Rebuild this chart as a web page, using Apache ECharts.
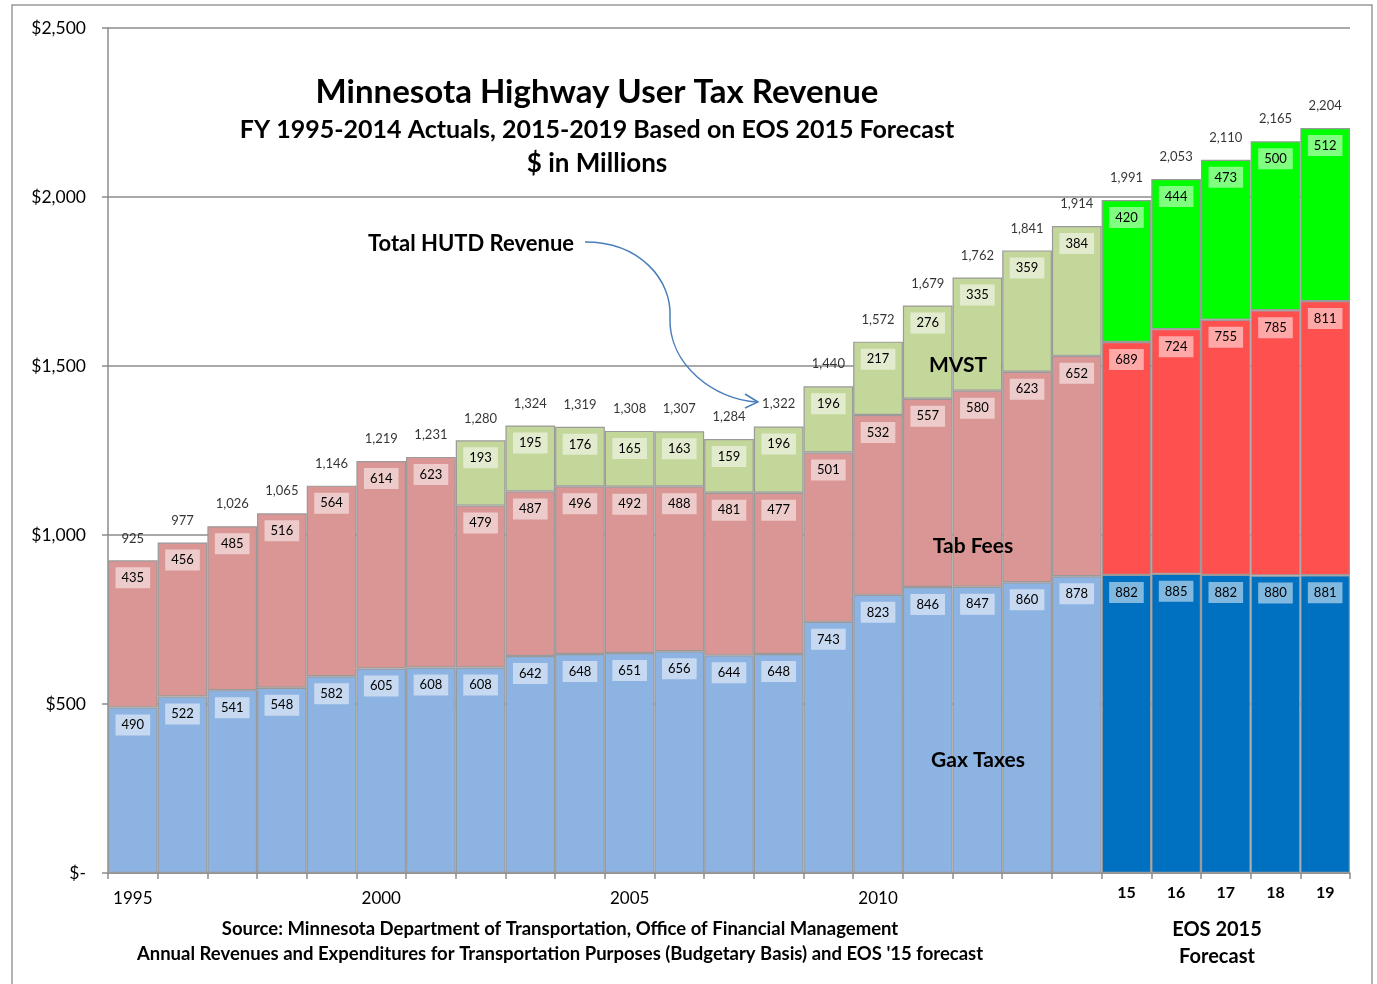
<!DOCTYPE html>
<html>
<head>
<meta charset="utf-8">
<script src="https://cdn.jsdelivr.net/npm/echarts@6/dist/echarts.min.js"></script>
<style>
  html, body { margin: 0; padding: 0; background: #fff; }
  #main { width: 1377px; height: 984px; }
</style>
</head>
<body>
<div id="main"></div>
<script>
// 年份
var years = ['1995','1996','1997','1998','1999','2000','2001','2002','2003','2004','2005','2006',
  '2007','2008','2009','2010','2011','2012','2013','2014','2015','2016','2017','2018','2019']
// Gas taxes
var gasTaxes = [490, 522, 541, 548, 582, 605, 608, 608, 642, 648, 651, 656, 644, 648, 743, 823,
  846, 847, 860, 878, 882, 885, 882, 880, 881]
// Tab fees
var tabFees = [435, 456, 485, 516, 564, 614, 623, 479, 487, 496, 492, 488, 481, 477, 501, 532,
  557, 580, 623, 652, 689, 724, 755, 785, 811]
// MVST (none before 2002)
var mvst = [null, null, null, null, null, null, null, 193, 195, 176, 165, 163, 159, 196, 196, 217,
  276, 335, 359, 384, 420, 444, 473, 500, 512]
// Total HUTD revenue, as printed
var totals = [925, 977, 1026, 1065, 1146, 1219, 1231, 1280, 1324, 1319, 1308, 1307, 1284, 1322, 1440,
  1572, 1679, 1762, 1841, 1914, 1991, 2053, 2110, 2165, 2204]
var yTicks = ['$-', '$500', '$1,000', '$1,500', '$2,000', '$2,500']
var firstForecast = 20

var FONT = 'Lato'
var chart = echarts.init(document.getElementById('main'))

function colored(values, actual, forecast) {
  return values.map(function (v, i) {
    return { value: v, itemStyle: { color: i >= firstForecast ? forecast : actual } }
  })
}

var segLabel = {
  show: true,
  position: 'insideTop',
  distance: 7,
  color: '#000',
  fontFamily: FONT,
  fontSize: 13,
  backgroundColor: 'rgba(255,255,255,0.5)',
  padding: [4, 6, 4, 6]
}
var barBorder = { borderColor: '#9a9a9a', borderWidth: 1.2 }

function txt(x, y, text, font, z) {
  return { type: 'text', x: x, y: y, z: z || 10,
    style: { text: text, font: font, fill: '#000', align: 'center', verticalAlign: 'middle' } }
}

var option = {
  animation: false,
  textStyle: { fontFamily: FONT },
  grid: { left: 108, right: 27, top: 28, bottom: 111 },
  xAxis: {
    type: 'category',
    data: years,
    axisLine: { lineStyle: { color: '#8c8c8c', width: 1.5 } },
    axisTick: { show: true, alignWithLabel: false, interval: 0, length: 6, lineStyle: { color: '#8c8c8c', width: 1.5 } },
    axisLabel: {
      interval: 0,
      margin: 12,
      fontFamily: FONT,
      fontSize: 17,
      color: '#000',
      formatter: function (v, i) {
        if (i >= firstForecast) return '{b|' + v.slice(2) + '}'
        return i % 5 === 0 ? '{y|' + v + '}' : ''
      },
      rich: {
        y: { fontSize: 17, fontFamily: FONT, color: '#000', padding: [5, 0, 0, 0] },
        b: { fontWeight: 'bold', fontSize: 16, fontFamily: FONT, color: '#000' }
      }
    }
  },
  yAxis: {
    type: 'value',
    min: 0,
    max: 2500,
    interval: 500,
    axisLine: { show: true, lineStyle: { color: '#8c8c8c', width: 1.5 } },
    axisTick: { show: true, length: 6, lineStyle: { color: '#8c8c8c', width: 1.5 } },
    splitLine: { lineStyle: { color: '#8c8c8c', width: 1.5 } },
    axisLabel: {
      margin: 22,
      fontFamily: FONT,
      fontSize: 17.5,
      color: '#000',
      formatter: function (v) { return yTicks[v / 500] }
    }
  },
  series: [
    {
      name: 'Gas Taxes', type: 'bar', stack: 'hutd', barCategoryGap: '0%',
      data: colored(gasTaxes, '#8DB3E2', '#0070C0'),
      itemStyle: barBorder, label: segLabel
    },
    {
      name: 'Tab Fees', type: 'bar', stack: 'hutd',
      data: colored(tabFees, '#DA9694', '#FF5050'),
      itemStyle: barBorder, label: segLabel
    },
    {
      name: 'MVST', type: 'bar', stack: 'hutd',
      data: colored(mvst, '#C4D79B', '#00FF00'),
      itemStyle: barBorder, label: segLabel
    },
    {
      name: 'Total', type: 'scatter', symbolSize: 1, z: 5,
      itemStyle: { color: 'rgba(0,0,0,0)' },
      data: totals,
      label: {
        show: true, position: 'top', distance: 15,
        fontFamily: FONT, fontSize: 13, color: '#000',
        formatter: function (p) { return p.value.toLocaleString('en-US') }
      }
    }
  ],
  graphic: [
    { type: 'rect', silent: true, shape: { x: 12, y: 5, width: 1360, height: 1000 },
      style: { fill: 'none', stroke: '#9a9a9a', lineWidth: 1.5 } },
    txt(597, 92, 'Minnesota Highway User Tax Revenue', 'bold 33px ' + FONT),
    txt(597, 130, 'FY 1995-2014 Actuals, 2015-2019 Based on EOS 2015 Forecast', 'bold 25px ' + FONT),
    txt(597, 164, '$ in Millions', 'bold 26px ' + FONT),
    txt(471, 244, 'Total HUTD Revenue', 'bold 22px ' + FONT),
    // 箭头
    { type: 'bezierCurve', silent: true, z: 10,
      shape: { x1: 585, y1: 242, cpx1: 640, cpy1: 242, cpx2: 672, cpy2: 280, x2: 670, y2: 317 },
      style: { fill: 'none', stroke: '#4A7EBB', lineWidth: 1.5 } },
    { type: 'bezierCurve', silent: true, z: 10,
      shape: { x1: 670, y1: 317, cpx1: 668, cpy1: 365, cpx2: 715, cpy2: 400, x2: 757, y2: 402 },
      style: { fill: 'none', stroke: '#4A7EBB', lineWidth: 1.5 } },
    { type: 'polyline', silent: true, z: 10,
      shape: { points: [[745, 394], [758, 402], [745, 408]] },
      style: { fill: 'none', stroke: '#4A7EBB', lineWidth: 1.5 } },
    txt(958, 365, 'MVST', 'bold 21px ' + FONT),
    txt(973, 546, 'Tab Fees', 'bold 21px ' + FONT),
    txt(978, 760, 'Gax Taxes', 'bold 21px ' + FONT),
    txt(560, 929, 'Source: Minnesota Department of Transportation, Office of Financial Management', 'bold 18.5px ' + FONT),
    txt(560, 954, "Annual Revenues and Expenditures for Transportation Purposes (Budgetary Basis) and EOS '15 forecast", 'bold 18.5px ' + FONT),
    txt(1217, 930, 'EOS 2015', 'bold 20px ' + FONT),
    txt(1217, 957, 'Forecast', 'bold 20px ' + FONT)
  ]
}
chart.setOption(option)
</script>
</body>
</html>
